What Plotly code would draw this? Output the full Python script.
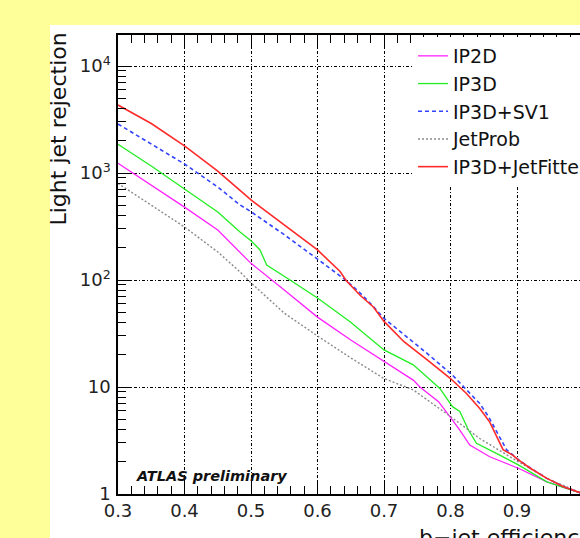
import plotly.graph_objects as go

# b-jet efficiency vs light-jet rejection for several ATLAS b-tagging algorithms
eff_ip2d = [0.30, 0.35, 0.40, 0.45, 0.4835, 0.50, 0.55, 0.60, 0.65, 0.70, 0.744, 0.754, 0.782,
            0.803, 0.814, 0.829, 0.859, 0.902, 0.945, 1.00]
rej_ip2d = [1233, 773, 480, 293, 179, 143, 80.7, 45, 27.5, 17.2, 11.6, 10.0, 7.3,
            4.9, 3.96, 2.87, 2.23, 1.74, 1.30, 1.0]

eff_ip3d = [0.30, 0.35, 0.40, 0.45, 0.4835, 0.50, 0.5135, 0.5236, 0.5586, 0.60, 0.649, 0.70, 0.744,
            0.784, 0.803, 0.814, 0.827, 0.839, 0.869, 0.902, 0.945, 1.00]
rej_ip3d = [1855, 1162, 709, 432, 281, 233, 191, 138, 100, 68, 40.7, 22.2, 16.1,
            9.7, 6.55, 5.9, 3.96, 2.98, 2.40, 1.87, 1.30, 1.0]

eff_sv1 = [0.30, 0.35, 0.40, 0.45, 0.4835, 0.50, 0.55, 0.60, 0.643, 0.66, 0.68, 0.70, 0.764,
           0.803, 0.824, 0.844, 0.857, 0.8845, 0.902, 0.92, 0.945, 0.97, 1.00]
rej_sv1 = [2870, 1870, 1213, 740, 503, 435, 265, 157, 99, 80, 60, 43.8, 20.8,
           12.9, 9.4, 7.0, 5.3, 2.58, 2.1, 1.75, 1.40, 1.17, 1.0]

eff_jetprob = [0.30, 0.35, 0.40, 0.45, 0.4835, 0.50, 0.55, 0.60, 0.65, 0.70, 0.744, 0.80,
               0.844, 0.902, 0.945, 1.00]
rej_jetprob = [800, 503, 313, 183, 119, 94, 49, 30, 18.7, 12.0, 9.4, 5.3,
               3.3, 2.0, 1.4, 1.0]

eff_jf = [0.30, 0.35, 0.40, 0.45, 0.50, 0.55, 0.60, 0.634, 0.643, 0.664, 0.684, 0.70, 0.73,
          0.765, 0.80, 0.824, 0.844, 0.859, 0.867, 0.879, 0.894, 0.902, 0.92, 0.945, 0.97, 1.00]
rej_jf = [4320, 2900, 1790, 1040, 560, 330, 191, 120, 99, 72, 56, 41, 26.5,
          17.9, 12.0, 8.7, 6.3, 4.7, 3.7, 2.6, 2.3, 2.08, 1.74, 1.40, 1.17, 1.0]

y_tickvals = [1, 10, 100, 1000, 10000]
y_ticktext = ["1", "10", "10<sup>2</sup>", "10<sup>3</sup>", "10<sup>4</sup>"]
x_tickvals = [0.3, 0.4, 0.5, 0.6, 0.7, 0.8, 0.9]
x_ticktext = ["0.3", "0.4", "0.5", "0.6", "0.7", "0.8", "0.9"]

FONT = "DejaVu Sans"

fig = go.Figure()
fig.add_trace(go.Scatter(x=eff_ip2d, y=rej_ip2d, mode="lines", name="IP2D",
                         line=dict(color="#ff22ff", width=1.3)))
fig.add_trace(go.Scatter(x=eff_ip3d, y=rej_ip3d, mode="lines", name="IP3D",
                         line=dict(color="#22ee22", width=1.3)))
fig.add_trace(go.Scatter(x=eff_sv1, y=rej_sv1, mode="lines", name="IP3D+SV1",
                         line=dict(color="#3344ff", width=1.6, dash="4px,3px")))
fig.add_trace(go.Scatter(x=eff_jetprob, y=rej_jetprob, mode="lines", name="JetProb",
                         line=dict(color="#8a8a8a", width=1.4, dash="2px,2px")))
fig.add_trace(go.Scatter(x=eff_jf, y=rej_jf, mode="lines", name="IP3D+JetFitter",
                         line=dict(color="#ff2a2a", width=1.6)))

W, H = 580, 538
L, T, B = 118, 35, 44
plot_w = W - L
plot_h = H - T - B
px_per_unit = 665.0
x_end = 0.3 + plot_w / px_per_unit

fig.update_layout(
    width=W, height=H,
    margin=dict(l=L, r=0, t=T, b=B, pad=0, autoexpand=False),
    paper_bgcolor="#ffff99",
    plot_bgcolor="white",
    font=dict(family=FONT, color="#222222"),
    showlegend=True,
    legend=dict(
        x=(413 - L) / plot_w, y=1 - 2 / plot_h, xanchor="left", yanchor="top",
        bgcolor="white", borderwidth=0,
        font=dict(family=FONT, size=19, color="#111111"),
        itemwidth=30, tracegroupgap=0,
    ),
    shapes=[
        dict(type="rect", xref="paper", yref="paper",
             x0=(50 - L) / plot_w, x1=1.3, y0=-0.3, y1=(H - B - 25) / plot_h,
             fillcolor="white", line=dict(width=0), layer="below"),
    ],
    annotations=[
        dict(text="Light jet rejection", textangle=-90, showarrow=False,
             xref="paper", yref="paper", x=(58 - L) / plot_w, y=(H - B - 31) / plot_h,
             xanchor="center", yanchor="top",
             font=dict(family=FONT, size=22, color="#111111")),
        dict(text="b\u2212jet efficiency", showarrow=False,
             xref="paper", yref="paper", x=(417 - L) / plot_w, y=-(523 - (H - B)) / plot_h,
             xanchor="left", yanchor="top",
             font=dict(family=FONT, size=22, color="#111111")),
        dict(text="<b><i>ATLAS preliminary</i></b>", showarrow=False,
             xref="paper", yref="paper", x=(134 - L) / plot_w, y=(H - B - 476) / plot_h,
             xanchor="left", yanchor="middle",
             font=dict(family=FONT, size=14.5, color="#111111")),
    ],
)

grid_dash = "3px,2px,1px,2px"

fig.update_xaxes(
    range=[0.3, x_end],
    tickvals=x_tickvals, ticktext=x_ticktext,
    tickfont=dict(family=FONT, size=18, color="#222222"),
    ticks="inside", ticklen=14, tickwidth=1.2, tickcolor="black",
    showline=True, linecolor="black", linewidth=1.5, mirror="allticks",
    showgrid=True, gridcolor="black", gridwidth=1.3, griddash=grid_dash,
    minor=dict(dtick=0.02, tick0=0.3, ticks="inside", ticklen=8, tickcolor="black",
               tickwidth=1.2, showgrid=False),
    zeroline=False,
)

fig.update_yaxes(
    type="log", range=[0, (H - B - T) / 107.0],
    tickvals=y_tickvals, ticktext=y_ticktext,
    tickfont=dict(family=FONT, size=18, color="#222222"),
    ticks="inside", ticklen=14, tickwidth=1.2, tickcolor="black",
    showline=True, linecolor="black", linewidth=1.5, mirror=False,
    showgrid=True, gridcolor="black", gridwidth=1.3, griddash=grid_dash,
    minor=dict(tickvals=[m * 10 ** d for d in range(0, 5) for m in range(2, 10)],
               ticks="inside", ticklen=8, tickcolor="black", tickwidth=1.2, showgrid=False),
    ticklabelstandoff=2,
    zeroline=False,
)

fig.write_html("out.html")
